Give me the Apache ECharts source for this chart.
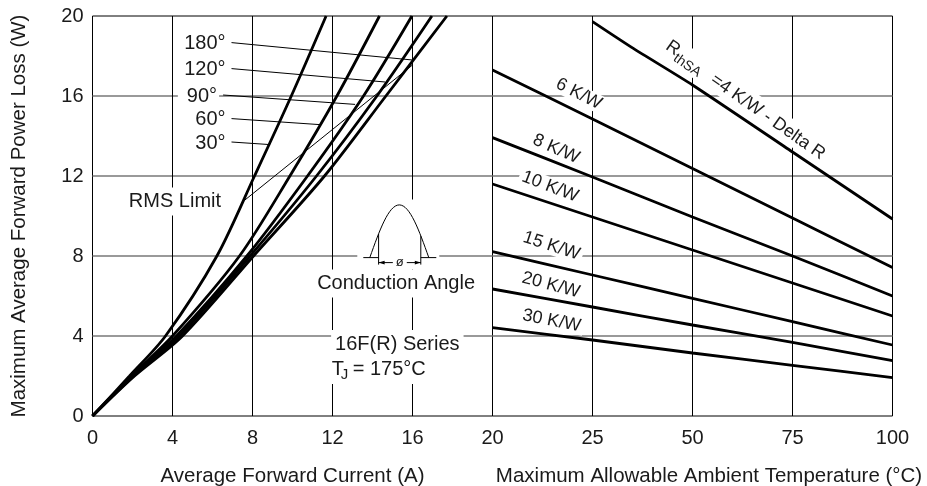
<!DOCTYPE html>
<html>
<head>
<meta charset="utf-8">
<script src="https://cdn.jsdelivr.net/npm/echarts@6/dist/echarts.min.js"></script>
<style>
html,body{margin:0;padding:0;background:#fff;}
#c{width:927px;height:486px;}
</style>
</head>
<body>
<div id="c"></div>
<script>
// ---------------- data ----------------
const xTicksLeft  = [0, 4, 8, 12, 16, 20];
const xTicksRight = [0, 25, 50, 75, 100];
const yTicks      = [0, 4, 8, 12, 16, 20];

// Left panel: average forward current (A) vs. power loss (W)
const angleNames = ['30°', '60°', '90°', '120°', '180°'];
const angle30  = [[0,0],[1.85,2],[3.65,4],[6.22,8],[8.1,12],[9.94,16],[11.68,20]];
const angle60  = [[0,0],[1.95,2],[4.0,4],[7.35,8],[9.87,12],[12.22,16],[14.35,20]];
const angle90  = [[0,0],[2.0,2],[4.2,4],[7.72,8],[10.75,12],[13.55,16],[15.97,20]];
const angle120 = [[0,0],[2.05,2],[4.35,4],[7.88,8],[11.2,12],[14.22,16],[16.97,20]];
const angle180 = [[0,0],[2.1,2],[4.5,4],[8.05,8],[11.6,12],[14.67,16],[17.72,20]];
const rmsLimit = [[7.62,10.8],[16.0,17.55]];

// Right panel: ambient temperature (°C) vs. power loss (W)
const ambientTemps = [0, 25, 50, 75, 100];
const kw6  = [17.3, 14.85, 12.38, 9.9, 7.42];
const kw8  = [13.92, 11.95, 9.95, 8.0, 6.0];
const kw10 = [11.6, 9.95, 8.3, 6.65, 5.0];
const kw15 = [8.22, 7.05, 5.88, 4.72, 3.55];
const kw20 = [6.35, 5.45, 4.55, 3.68, 2.77];
const kw30 = [4.42, 3.8, 3.15, 2.53, 1.92];
const kw4Temps = [25, 35.2, 50, 75, 100];
const kw4      = [19.72, 18.38, 16.55, 13.2, 9.85];
const kwNames  = ['6 K/W', '8 K/W', '10 K/W', '15 K/W', '20 K/W', '30 K/W'];

// ---------------- annotation placement (data coordinates) ----------------
const leaderStart = [[6.95,13.7],[6.95,14.87],[6.53,16.05],[6.95,17.37],[6.95,18.67]];
const leaderEnd   = [[8.88,13.57],[11.35,14.57],[13.13,15.58],[14.63,16.7],[16.0,17.8]];
const noteTexts = ['RMS Limit', '16F(R) Series', 'Conduction Angle'];
const notePos   = [[6.63,10.73],[11.93,3.6],[15.18,6.63]];
const noteAlign = ['right', 'left', 'center'];
const tjPos     = [[11.96,2.35]];
const iconPos   = [[15.34,7.92]];
const kwLabelPos   = [[21.6,16.1],[15.9,13.35],[14.4,11.47],[14.75,8.5],[14.6,6.55],[14.8,4.76]];
const kwLabelAngle = [27, 24, 21, 18, 15, 11];
const rth4Pos   = [[43.75,18.58]];

// ---------------- chart ----------------
const FONT = '"Liberation Sans", Arial, Helvetica, sans-serif';
const TXT = '#1a1a1a';
const zip = (xs, ys) => xs.map((x, i) => [x, ys[i]]);

const chart = echarts.init(document.getElementById('c'), null, {renderer: 'canvas'});

const splitV = {show: true, showMinLine: false, showMaxLine: false, lineStyle: {color: '#000', width: 1}};
const splitH = {show: true, showMinLine: false, showMaxLine: false, lineStyle: {color: '#777', width: 1.5}};
const lab = {fontSize: 20, color: TXT, fontFamily: FONT};

function curve(data) {
  return {type: 'line', xAxisIndex: 0, yAxisIndex: 0, data: data, symbol: 'none',
    smooth: 0.3, lineStyle: {color: '#000', width: 2.8}, z: 4};
}
function rline(xs, ys) {
  return {type: 'line', xAxisIndex: 1, yAxisIndex: 1, data: zip(xs, ys), symbol: 'none',
    smooth: 0.2, lineStyle: {color: '#000', width: 2.8}, z: 4};
}

const series = [
  curve(angle30), curve(angle60), curve(angle90), curve(angle120), curve(angle180),
  {type: 'line', xAxisIndex: 0, yAxisIndex: 0, data: rmsLimit, symbol: 'none',
   lineStyle: {color: '#000', width: 1}, z: 4},
  // leaders + angle labels
  {type: 'custom', xAxisIndex: 0, yAxisIndex: 0, z: 3, silent: true,
   data: leaderStart.map((s, i) => [s[0], s[1], leaderEnd[i][0], leaderEnd[i][1]]),
   renderItem: function (params, api) {
     const p1 = api.coord([api.value(0), api.value(1)]);
     const p2 = api.coord([api.value(2), api.value(3)]);
     return {type: 'group', children: [
       {type: 'text', x: p1[0] - 4, y: p1[1] + 1,
        style: {text: angleNames[params.dataIndex], fontSize: 20, fontFamily: FONT, fill: TXT,
                align: 'right', verticalAlign: 'middle', backgroundColor: '#fff', padding: [3, 2, 3, 9]}},
       {type: 'line', shape: {x1: p1[0], y1: p1[1], x2: p2[0], y2: p2[1]},
        style: {stroke: '#000', lineWidth: 1}}
     ]};
   }},
  // notes
  {type: 'custom', xAxisIndex: 0, yAxisIndex: 0, z: 3, silent: true, data: notePos,
   renderItem: function (params, api) {
     const p = api.coord([api.value(0), api.value(1)]);
     return {type: 'text', x: p[0], y: p[1],
       style: {text: noteTexts[params.dataIndex], fontSize: 20, fontFamily: FONT, fill: TXT,
               align: noteAlign[params.dataIndex], verticalAlign: 'middle',
               backgroundColor: '#fff', padding: [4, 4]}};
   }},
  // T_J = 175°C
  {type: 'custom', xAxisIndex: 0, yAxisIndex: 0, z: 3, silent: true, data: tjPos,
   renderItem: function (params, api) {
     const p = api.coord([api.value(0), api.value(1)]);
     return {type: 'group', x: p[0], y: p[1], children: [
       {type: 'rect', shape: {x: -3, y: -13, width: 110, height: 28}, style: {fill: '#fff'}},
       {type: 'text', x: 0, y: 0, style: {text: 'T', fontSize: 20, fontFamily: FONT, fill: TXT, align: 'left', verticalAlign: 'middle'}},
       {type: 'text', x: 9, y: 6, style: {text: 'J', fontSize: 15, fontFamily: FONT, fill: TXT, align: 'left', verticalAlign: 'middle'}},
       {type: 'text', x: 21, y: 0, style: {text: '= 175°C', fontSize: 20, fontFamily: FONT, fill: TXT, align: 'left', verticalAlign: 'middle'}}
     ]};
   }},
  // conduction angle icon
  {type: 'custom', xAxisIndex: 0, yAxisIndex: 0, z: 3, silent: true, data: iconPos,
   renderItem: function (params, api) {
     const p = api.coord([api.value(0), api.value(1)]);
     const st = {stroke: '#000', lineWidth: 1, fill: null};
     return {type: 'group', x: p[0], y: p[1], children: [
       {type: 'rect', shape: {x: -42, y: -58, width: 82, height: 70}, style: {fill: '#fff'}},
       {type: 'bezierCurve', shape: {x1: -29.5, y1: 0, cpx1: -19.87, cpy1: -27.02, cpx2: -10.68, cpy2: -52.7, x2: 0, y2: -52.7}, style: st},
       {type: 'bezierCurve', shape: {x1: 0, y1: -52.7, cpx1: 10.68, cpy1: -52.7, cpx2: 19.87, cpy2: -27.02, x2: 29.5, y2: 0}, style: st},
       {type: 'line', shape: {x1: -36, y1: 0, x2: -20.7, y2: 0}, style: st},
       {type: 'line', shape: {x1: 21.5, y1: 0, x2: 37, y2: 0}, style: st},
       {type: 'line', shape: {x1: -20.7, y1: 7, x2: -20.7, y2: -23.8}, style: st},
       {type: 'line', shape: {x1: 21.5, y1: 7, x2: 21.5, y2: -21.5}, style: st},
       {type: 'line', shape: {x1: -20.7, y1: 5, x2: 21.5, y2: 5}, style: st},
       {type: 'polygon', shape: {points: [[-20.7, 5], [-14.7, 3.2], [-14.7, 6.8]]}, style: {fill: '#000'}},
       {type: 'polygon', shape: {points: [[21.5, 5], [15.5, 3.2], [15.5, 6.8]]}, style: {fill: '#000'}},
       {type: 'text', x: 0.5, y: 5, style: {text: 'ø', fontSize: 13, fontFamily: FONT, fill: TXT,
         align: 'center', verticalAlign: 'middle', backgroundColor: '#fff', padding: [0, 3]}}
     ]};
   }},
  // right panel lines
  rline(kw4Temps, kw4),
  rline(ambientTemps, kw6), rline(ambientTemps, kw8), rline(ambientTemps, kw10),
  rline(ambientTemps, kw15), rline(ambientTemps, kw20), rline(ambientTemps, kw30),
  // K/W labels
  {type: 'custom', xAxisIndex: 1, yAxisIndex: 1, z: 3, silent: true, data: kwLabelPos,
   renderItem: function (params, api) {
     const p = api.coord([api.value(0), api.value(1)]);
     return {type: 'text', x: p[0], y: p[1], rotation: -kwLabelAngle[params.dataIndex] * Math.PI / 180,
       style: {text: kwNames[params.dataIndex], fontSize: 18, fontFamily: FONT, fill: TXT,
               align: 'center', verticalAlign: 'middle', backgroundColor: '#fff', padding: [0, 3]}};
   }},
  // R_thSA = 4 K/W - Delta R
  {type: 'custom', xAxisIndex: 1, yAxisIndex: 1, z: 3, silent: true, data: rth4Pos,
   renderItem: function (params, api) {
     const p = api.coord([api.value(0), api.value(1)]);
     return {type: 'group', x: p[0], y: p[1], rotation: -35 * Math.PI / 180, children: [
       {type: 'rect', shape: {x: -2, y: -11, width: 196, height: 24}, style: {fill: '#fff'}},
       {type: 'text', x: 0, y: 0, style: {text: 'R', fontSize: 18, fontFamily: FONT, fill: TXT, align: 'left', verticalAlign: 'middle'}},
       {type: 'text', x: 13, y: 6, style: {text: 'thSA', fontSize: 14, fontFamily: FONT, fill: TXT, align: 'left', verticalAlign: 'middle'}},
       {type: 'text', x: 56, y: 2, style: {text: '=4 K/W - Delta R', fontSize: 18, fontFamily: FONT, fill: TXT, align: 'left', verticalAlign: 'middle'}}
     ]};
   }}
];

const option = {
  backgroundColor: '#fff',
  animation: false,
  grid: [
    {left: 92.5, top: 16, width: 400, height: 400, show: true, borderColor: '#000', borderWidth: 1,
     backgroundColor: 'transparent', containLabel: false, outerBoundsMode: 'none'},
    {left: 492.5, top: 16, width: 400, height: 400, show: true, borderColor: '#000', borderWidth: 1,
     backgroundColor: 'transparent', containLabel: false, outerBoundsMode: 'none'}
  ],
  xAxis: [
    {type: 'value', gridIndex: 0, min: xTicksLeft[0], max: xTicksLeft[xTicksLeft.length - 1],
     interval: xTicksLeft[1] - xTicksLeft[0],
     axisLine: {show: false}, axisTick: {show: false}, splitLine: splitV,
     axisLabel: Object.assign({margin: 12, showMinLabel: true, showMaxLabel: true,
       formatter: v => xTicksLeft.includes(v) ? String(v) : ''}, lab),
     name: 'Average Forward Current (A)', nameLocation: 'middle', nameGap: 50,
     nameTextStyle: {fontSize: 20.5, color: TXT, fontFamily: FONT}},
    {type: 'value', gridIndex: 1, min: xTicksRight[0], max: xTicksRight[xTicksRight.length - 1],
     interval: xTicksRight[1] - xTicksRight[0],
     axisLine: {show: false}, axisTick: {show: false}, splitLine: splitV,
     axisLabel: Object.assign({margin: 12, showMinLabel: false, showMaxLabel: true,
       formatter: v => (v !== 0 && xTicksRight.includes(v)) ? String(v) : ''}, lab),
     name: 'Maximum Allowable Ambient Temperature (°C)', nameLocation: 'middle', nameGap: 50,
     nameTextStyle: {fontSize: 20.5, color: TXT, fontFamily: FONT, padding: [0, 0, 0, 33]}}
  ],
  yAxis: [
    {type: 'value', gridIndex: 0, min: yTicks[0], max: yTicks[yTicks.length - 1], interval: yTicks[1] - yTicks[0],
     axisLine: {show: false}, axisTick: {show: false}, splitLine: splitH,
     axisLabel: Object.assign({margin: 9, showMinLabel: true, showMaxLabel: true,
       formatter: v => yTicks.includes(v) ? String(v) : ''}, lab),
     name: 'Maximum Average Forward Power Loss (W)', nameLocation: 'middle', nameGap: 63, nameRotate: 90,
     nameTextStyle: {fontSize: 20.5, color: TXT, fontFamily: FONT}},
    {type: 'value', gridIndex: 1, min: yTicks[0], max: yTicks[yTicks.length - 1], interval: yTicks[1] - yTicks[0],
     axisLine: {show: false}, axisTick: {show: false}, splitLine: splitH, axisLabel: {show: false}}
  ],
  series: series
};
chart.setOption(option);
</script>
</body>
</html>
